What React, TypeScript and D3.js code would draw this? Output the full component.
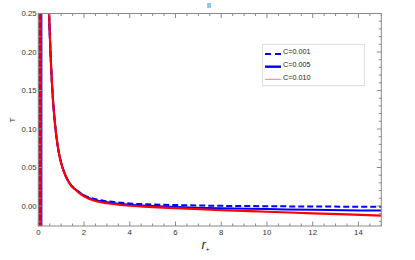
import React from "react";
import * as d3 from "d3";

// horizon radius samples and temperature
const rVals = [0.46, 0.5, 0.6, 0.7, 0.8, 0.9, 1.0, 1.2, 1.4, 1.6, 1.8, 2.0, 2.5, 3.0, 4.0, 5.0, 6.0, 8.0, 10.0, 12.0, 15.0];
const tC001 = [0.26, 0.225, 0.158, 0.116, 0.088, 0.069, 0.056, 0.039, 0.0285, 0.0225, 0.0178, 0.0138, 0.0088, 0.0062, 0.0032, 0.002, 0.0012, 0.0002, -0.0003, -0.0007, -0.001];
const tC005 = [0.26, 0.225, 0.158, 0.116, 0.088, 0.069, 0.0558, 0.0388, 0.0282, 0.0221, 0.0173, 0.0132, 0.0076, 0.005, 0.0015, 0.0, -0.0013, -0.003, -0.004, -0.005, -0.006];
const tC010 = [0.26, 0.225, 0.158, 0.116, 0.088, 0.069, 0.0555, 0.0385, 0.0278, 0.0217, 0.0168, 0.0125, 0.0065, 0.0035, 0.0003, -0.0015, -0.0028, -0.0055, -0.0075, -0.0095, -0.0125];
// the steep branch hugging r+ = 0
const branchR = [0.08, 0.08];
const branchT = [-0.03, 0.26];

const legendLabels = ["C=0.001", "C=0.005", "C=0.010"];
const xTicks = [0, 2, 4, 6, 8, 10, 12, 14];
const yTicks = [0.0, 0.05, 0.1, 0.15, 0.2, 0.25];

const W = 415;
const H = 260;
const font = "'Liberation Sans', Arial, sans-serif";

export default function App() {
  const x = d3.scaleLinear().domain([0, 15]).range([38.3, 381.3]);
  const y = d3.scaleLinear().domain([-0.026, 0.25]).range([226, 13.5]);
  const [x0, x1] = x.range();
  const [y0, y1] = y.range();

  const line = (rs: number[], ts: number[]) =>
    d3
      .line<number>()
      .x((_, i) => x(rs[i]))
      .y((t) => y(t))
      .curve(d3.curveMonotoneX)(ts) || "";

  const minorX = d3.range(0, 15.01, 0.5).filter((v) => v % 2 !== 0);
  const minorY = d3.range(-0.02, 0.2501, 0.01).filter((v) => Math.abs(Math.round(v * 100) % 5) !== 0);

  const tickColor = "#8a8a8a";
  const legendY = [54, 66.7, 79.3];

  return (
    <svg width={W} height={H} style={{ position: "absolute", left: 0, top: 0, display: "block" }} fontFamily={font}>
      <rect width={W} height={H} fill="white" />
      <defs>
        <clipPath id="plotClip">
          <rect x={x0} y={y1} width={x1 - x0} height={y0 - y1} />
        </clipPath>
      </defs>

      <g clipPath="url(#plotClip)" fill="none">
        {/* near-zero branch */}
        <path d={line(branchR, branchT)} stroke="#2020ff" strokeWidth={4.6} />
        <path d={line(branchR, branchT)} stroke="#e8001a" strokeWidth={3.6} />
        <path d={line(rVals, tC001)} stroke="#0000ff" strokeWidth={2} strokeDasharray="6,3" />
        <path d={line(rVals, tC005)} stroke="#0000ff" strokeWidth={2} />
        <path d={line(rVals, tC010)} stroke="#ff0000" strokeWidth={2.2} />
      </g>

      {/* frame */}
      <rect x={x0} y={y1} width={x1 - x0} height={y0 - y1} fill="none" stroke={tickColor} strokeWidth={1} />

      {/* x ticks, inward, bottom and top */}
      <g stroke={tickColor} strokeWidth={1}>
        {xTicks.map((v) => (
          <g key={"xt" + v}>
            <line x1={x(v)} x2={x(v)} y1={y0} y2={y0 - 4.5} />
            <line x1={x(v)} x2={x(v)} y1={y1} y2={y1 + 4.5} />
          </g>
        ))}
        {minorX.map((v) => (
          <g key={"xm" + v}>
            <line x1={x(v)} x2={x(v)} y1={y0} y2={y0 - 2.5} />
            <line x1={x(v)} x2={x(v)} y1={y1} y2={y1 + 2.5} />
          </g>
        ))}
        {yTicks.map((v) => (
          <g key={"yt" + v}>
            <line x1={x0} x2={x0 + 4.5} y1={y(v)} y2={y(v)} />
            <line x1={x1} x2={x1 - 4.5} y1={y(v)} y2={y(v)} />
          </g>
        ))}
        {minorY.map((v) => (
          <g key={"ym" + v}>
            <line x1={x0} x2={x0 + 2.5} y1={y(v)} y2={y(v)} />
            <line x1={x1} x2={x1 - 2.5} y1={y(v)} y2={y(v)} />
          </g>
        ))}
      </g>

      {/* tick labels */}
      <g fontSize={7.8} fill="#333">
        {xTicks.map((v) => (
          <text key={"xl" + v} x={x(v)} y={235} textAnchor="middle">
            {v}
          </text>
        ))}
        {yTicks.map((v) => (
          <text key={"yl" + v} x={36.6} y={y(v) + 2.8} textAnchor="end">
            {d3.format(".2f")(v)}
          </text>
        ))}
      </g>

      {/* axis labels and title */}
      <text x={0} y={0} transform="translate(14.5,120) rotate(-90)" fontSize={8} fill="#333" textAnchor="middle">
        T
      </text>
      <text x={209} y={8} fontSize={7} fill="#333" textAnchor="middle">
        II
      </text>
      <text x={201.5} y={249} fontSize={13} fill="#222" fontStyle="italic">
        r
        <tspan fontSize={6.5} fontStyle="normal" dy={2.5}>
          +
        </tspan>
      </text>

      {/* legend */}
      <g>
        <rect x={262.7} y={44.3} width={101.6} height={41.4} fill="white" stroke="#d4d4d4" strokeWidth={0.8} />
        <line x1={265} x2={281} y1={legendY[0]} y2={legendY[0]} stroke="#0000ff" strokeWidth={2} strokeDasharray="6,4" />
        <line x1={265} x2={281} y1={legendY[1]} y2={legendY[1]} stroke="#0000ff" strokeWidth={2.4} />
        <line x1={265} x2={281} y1={legendY[2]} y2={legendY[2]} stroke="#f08080" strokeWidth={1} />
        {legendLabels.map((s, i) => (
          <text key={s} x={283} y={legendY[i] + 0.3} fontSize={7.2} fill="#222">
            {s}
          </text>
        ))}
      </g>
    </svg>
  );
}
